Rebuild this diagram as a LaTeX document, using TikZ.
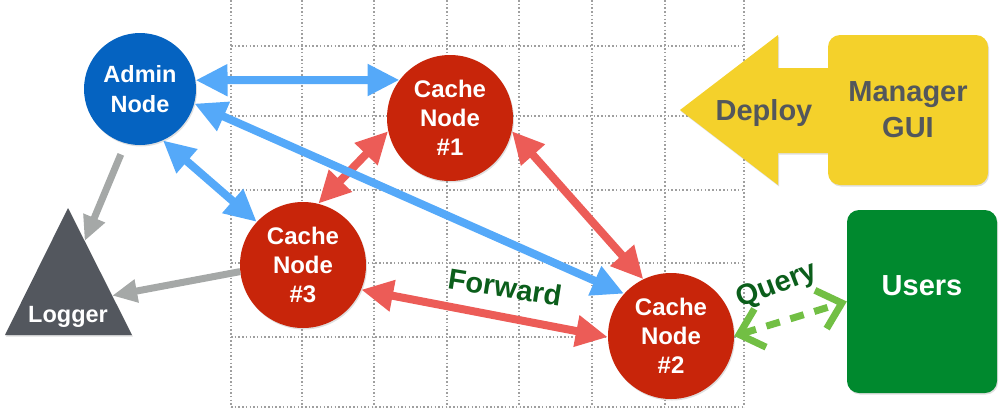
\documentclass[tikz,border=0pt]{standalone}
\usepackage{fontspec}
\setmainfont{Liberation Sans}
\usetikzlibrary{arrows.meta, calc, shadows}

\definecolor{adminblue}{HTML}{0563C1}
\definecolor{cachered}{HTML}{C8250A}
\definecolor{arrowblue}{HTML}{55A9F9}
\definecolor{arrowred}{HTML}{EC5C57}
\definecolor{arrowgray}{HTML}{A5A8A7}
\definecolor{loggray}{HTML}{53575E}
\definecolor{guiyellow}{HTML}{F4D12B}
\definecolor{guitext}{HTML}{53575C}
\definecolor{usersgreen}{HTML}{00892E}
\definecolor{querygreen}{HTML}{72BF44}
\definecolor{labelgreen}{HTML}{0B5E1B}

\begin{document}
\begin{tikzpicture}[x=1pt, y=-1pt,
    grid/.style = {draw=gray!75, line width=1.2pt, dash pattern=on 1.5pt off 2.2pt},
    soft/.style = {drop shadow={opacity=0.25, shadow xshift=1pt, shadow yshift=-1.5pt}},
    admin/.style = {circle, fill=adminblue, text=white, minimum size=112pt, inner sep=0pt, align=center, font=\bfseries\fontsize{23.5}{30}\selectfont, soft},
    cache/.style = {circle, fill=cachered, text=white, minimum size=126pt, inner sep=0pt, align=center, font=\bfseries\fontsize{24}{29}\selectfont, soft},
    gui/.style = {rectangle, rounded corners=12pt, fill=guiyellow, text=guitext, minimum width=160pt, minimum height=150pt, align=center, font=\bfseries\fontsize{29}{36}\selectfont, soft},
    users/.style = {rectangle, rounded corners=12pt, fill=usersgreen, text=white, minimum width=150pt, minimum height=183pt, text height=21pt, text depth=34pt, font=\bfseries\fontsize{29}{34}\selectfont, soft},
    blueline/.style = {draw=arrowblue, line width=8pt, {Triangle[length=32pt,width=30pt]}-{Triangle[length=32pt,width=30pt]}},
    redline/.style = {draw=arrowred, line width=8pt, {Triangle[length=32pt,width=30pt]}-{Triangle[length=32pt,width=30pt]}},
    grayline/.style = {draw=arrowgray, line width=7pt, -{Triangle[length=25pt,width=22pt]}},
    queryline/.style = {draw=querygreen, line width=7pt, dash pattern=on 14pt off 11pt, {Straight Barb[length=22pt,width=40pt]}-{Straight Barb[length=22pt,width=40pt]}},
    tag/.style = {text=labelgreen, inner sep=1pt, font=\bfseries\fontsize{29}{32}\selectfont}]
    \useasboundingbox (0,0) rectangle (1001,413);
    % grid
    \foreach \x in {231,302,374,447,519,592,665,744}
        \draw[grid] (\x,0) -- (\x,407);
    \foreach \y in {46,116,190,263,337,407}
        \draw[grid] (231,\y) -- (744,\y);
    % nodes
    \node [admin] (admin) at (140,89) {Admin\\Node};
    \node [cache] (c1) at (450,118) {Cache\\Node\\\#1};
    \node [cache] (c3) at (303,265) {Cache\\Node\\\#3};
    \node [cache] (c2) at (671,336) {Cache\\Node\\\#2};
    % logger
    \coordinate (lgtop) at (68,208);
    \coordinate (lgleft) at (5,335);
    \coordinate (lgright) at (132,335);
    \fill[loggray, soft] (lgtop) -- (lgright) -- (lgleft) -- cycle;
    \node [text=white, font=\bfseries\fontsize{23.5}{28}\selectfont, anchor=base] (logger) at (68,322) {Logger};
    \coordinate (lg1) at ($(lgtop)!0.26!(lgright)$);
    \coordinate (lg2) at ($(lgtop)!0.69!(lgright)$);
    % deploy arrow and gui
    \fill[guiyellow, soft] (680,110) -- (778,35) -- (778,68) -- (840,68) -- (840,153) -- (778,153) -- (778,185) -- cycle;
    \node [text=guitext, font=\bfseries\fontsize{29}{34}\selectfont, anchor=base] (deploy) at (764,120) {Deploy};
    \node [gui] (gui) at (908,110) {Manager\\GUI};
    \node [users] (users) at (922,301.5) {Users};
    % connectors
    \draw[redline] (c1.-168) -- (c3.76);
    \draw[redline] (c1.-12) -- (c2.116);
    \draw[redline] (c3.-23) -- (c2.181);
    \draw[blueline] (admin.9) -- (c1.143);
    \draw[blueline] (admin.-66) -- (c3.137);
    \draw[blueline] (admin.-15) -- (c2.138);
    \draw[grayline, shorten <=12pt] (admin.-105) -- (lg1);
    \draw[grayline] (c3.-174) -- (lg2);
    \draw[queryline] (c2.0) -- (users.west);
    % labels
    \node [tag, rotate=-9] (fwd) at (505,287) {Forward};
    \node [tag, rotate=21] (qry) at (777,286) {Query};
\end{tikzpicture}
\end{document}
